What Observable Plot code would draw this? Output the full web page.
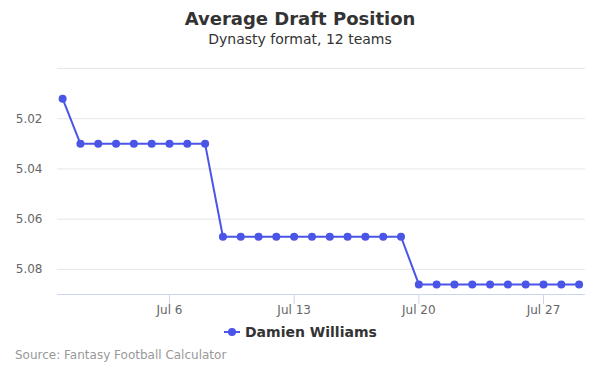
<!DOCTYPE html>
<html><head><meta charset="utf-8">
<script src="https://cdn.jsdelivr.net/npm/d3@7"></script>
<script src="https://cdn.jsdelivr.net/npm/@observablehq/plot@0.6"></script>
<style>
body{margin:0;font-family:"DejaVu Sans",sans-serif;}
#wrap{position:relative;width:600px;height:375px;overflow:hidden;}
.t{position:absolute;white-space:nowrap;}
</style></head>
<body><div id="wrap">
<div class="t" id="title" style="left:0;width:600px;top:8px;text-align:center;font-size:18px;font-weight:bold;color:#333;">Average Draft Position</div>
<div class="t" style="left:0;width:600px;top:31px;text-align:center;font-size:14px;color:#333;">Dynasty format, 12 teams</div>
<div class="t" style="left:224px;top:324px;font-size:14px;font-weight:bold;color:#333;display:flex;align-items:center;">
<svg width="16" height="12" style="margin-right:5px"><line x1="0" y1="6" x2="16" y2="6" stroke="#4a55e8" stroke-width="2"/><circle cx="8" cy="6" r="4" fill="#4a55e8"/></svg>Damien Williams</div>
<div class="t" style="left:15px;top:348px;font-size:12px;color:#999;">Source: Fantasy Football Calculator</div>
</div>
<script>
const dates = [
 "2019-06-30","2019-07-01","2019-07-02","2019-07-03","2019-07-04","2019-07-05","2019-07-06","2019-07-07","2019-07-08",
 "2019-07-09","2019-07-10","2019-07-11","2019-07-12","2019-07-13","2019-07-14","2019-07-15","2019-07-16","2019-07-17","2019-07-18","2019-07-19",
 "2019-07-20","2019-07-21","2019-07-22","2019-07-23","2019-07-24","2019-07-25","2019-07-26","2019-07-27","2019-07-28","2019-07-29"];
const adp = [
 5.012,5.03,5.03,5.03,5.03,5.03,5.03,5.03,5.03,
 5.067,5.067,5.067,5.067,5.067,5.067,5.067,5.067,5.067,5.067,5.067,
 5.086,5.086,5.086,5.086,5.086,5.086,5.086,5.086,5.086,5.086];
const yTicks = [5.00,5.02,5.04,5.06,5.08];
const yLabels = ["","5.02","5.04","5.06","5.08"];
const xTicks = ["2019-07-06","2019-07-13","2019-07-20","2019-07-27"];
const xTickLabels = ["Jul 6","Jul 13","Jul 20","Jul 27"];

const data = dates.map((d,i)=>({date:new Date(d+"T00:00:00Z"), adp:adp[i]}));
const xt = xTicks.map(d=>new Date(d+"T00:00:00Z"));
const H = 3600e3;
const x0 = new Date(data[0].date.getTime() - 6.9*H);
const x1 = new Date(data[data.length-1].date.getTime() + 8.6*H);
const color = "#4a55e8";

const chart = Plot.plot({
  width:600, height:375,
  marginTop:68, marginBottom:81, marginLeft:57, marginRight:15,
  style:{fontFamily:"DejaVu Sans, sans-serif", background:"transparent"},
  x:{type:"utc", domain:[x0,x1], axis:null},
  y:{domain:[5.00,5.09], reverse:true, axis:null},
  marks:[
    Plot.ruleY(yTicks,{stroke:"#e6e6e6", strokeWidth:1}),
    Plot.text(yTicks,{x:x0, y:d=>d, text:(d,i)=>yLabels[i], textAnchor:"end", dx:-15, fontSize:12, fill:"#666"}),
    Plot.ruleY([5.09],{stroke:"#ccd6eb", strokeWidth:1}),
    Plot.ruleX(xt,{x:d=>d, y1:5.09, y2:5.094, stroke:"#ccd6eb", strokeWidth:1}),
    Plot.text(xt,{x:d=>d, y:5.09, text:(d,i)=>xTickLabels[i], dy:16, fontSize:12, fill:"#666"}),
    Plot.line(data,{x:"date", y:"adp", stroke:color, strokeWidth:2}),
    Plot.dot(data,{x:"date", y:"adp", fill:color, r:4})
  ]
});
chart.style.position="absolute"; chart.style.left="0"; chart.style.top="0";
document.getElementById("wrap").prepend(chart);
</script>
</body></html>
